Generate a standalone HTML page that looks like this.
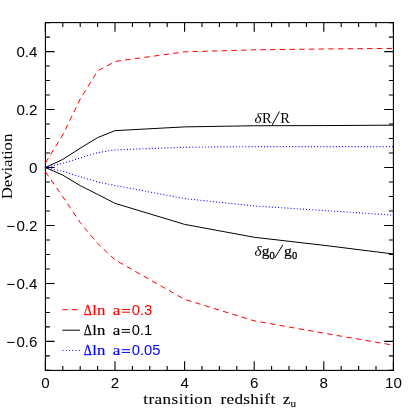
<!DOCTYPE html>
<html><head><meta charset="utf-8"><title>chart</title>
<style>html,body{margin:0;padding:0;background:#fff;}svg{display:block;will-change:transform;}text{font-family:"Liberation Sans",sans-serif;}.s{font-family:"Liberation Serif",serif;}</style></head><body>
<svg width="415" height="415" viewBox="0 0 415 415">
<rect x="0" y="0" width="415" height="415" fill="#fff"/>
<path d="M45.40 370.40V361.20M45.40 22.60V31.80M62.80 370.40V365.90M62.80 22.60V27.10M80.20 370.40V365.90M80.20 22.60V27.10M97.60 370.40V365.90M97.60 22.60V27.10M115.00 370.40V361.20M115.00 22.60V31.80M132.40 370.40V365.90M132.40 22.60V27.10M149.80 370.40V365.90M149.80 22.60V27.10M167.20 370.40V365.90M167.20 22.60V27.10M184.60 370.40V361.20M184.60 22.60V31.80M202.00 370.40V365.90M202.00 22.60V27.10M219.40 370.40V365.90M219.40 22.60V27.10M236.80 370.40V365.90M236.80 22.60V27.10M254.20 370.40V361.20M254.20 22.60V31.80M271.60 370.40V365.90M271.60 22.60V27.10M289.00 370.40V365.90M289.00 22.60V27.10M306.40 370.40V365.90M306.40 22.60V27.10M323.80 370.40V361.20M323.80 22.60V31.80M341.20 370.40V365.90M341.20 22.60V27.10M358.60 370.40V365.90M358.60 22.60V27.10M376.00 370.40V365.90M376.00 22.60V27.10M393.40 370.40V361.20M393.40 22.60V31.80M45.40 370.40H49.90M393.40 370.40H388.90M45.40 355.91H49.90M393.40 355.91H388.90M45.40 341.42H54.60M393.40 341.42H384.20M45.40 326.92H49.90M393.40 326.92H388.90M45.40 312.43H49.90M393.40 312.43H388.90M45.40 297.94H49.90M393.40 297.94H388.90M45.40 283.45H54.60M393.40 283.45H384.20M45.40 268.96H49.90M393.40 268.96H388.90M45.40 254.47H49.90M393.40 254.47H388.90M45.40 239.97H49.90M393.40 239.97H388.90M45.40 225.48H54.60M393.40 225.48H384.20M45.40 210.99H49.90M393.40 210.99H388.90M45.40 196.50H49.90M393.40 196.50H388.90M45.40 182.01H49.90M393.40 182.01H388.90M45.40 167.52H54.60M393.40 167.52H384.20M45.40 153.02H49.90M393.40 153.02H388.90M45.40 138.53H49.90M393.40 138.53H388.90M45.40 124.04H49.90M393.40 124.04H388.90M45.40 109.55H54.60M393.40 109.55H384.20M45.40 95.06H49.90M393.40 95.06H388.90M45.40 80.57H49.90M393.40 80.57H388.90M45.40 66.07H49.90M393.40 66.07H388.90M45.40 51.58H54.60M393.40 51.58H384.20M45.40 37.09H49.90M393.40 37.09H388.90M45.40 22.60H49.90M393.40 22.60H388.90" stroke="#000" stroke-width="1.1" fill="none"/>
<rect x="45.40" y="22.60" width="348.00" height="347.80" fill="none" stroke="#000" stroke-width="1.1"/>
<polyline fill="none" stroke-width="1" stroke="#ff0000" stroke-dasharray="5.5 4.2" stroke-dashoffset="-0.2" points="45.40,163.02 62.80,134.91 80.20,99.12 97.60,71.00 115.00,61.44 184.60,51.87 254.20,49.84 323.80,48.97 393.40,48.40"/>
<polyline fill="none" stroke-width="1" stroke="#ff0000" stroke-dasharray="5.5 4.2" stroke-dashoffset="-0.2" points="45.40,171.72 62.80,196.79 80.20,222.47 97.60,243.45 115.00,259.83 184.60,299.39 254.20,320.84 323.80,333.16 393.40,345.18"/>
<polyline fill="none" stroke-width="1" stroke="#000" points="45.40,167.52 62.80,159.43 80.20,148.24 97.60,137.61 115.00,130.65 184.60,126.88 254.20,125.75 323.80,125.58 393.40,125.17"/>
<polyline fill="none" stroke-width="1" stroke="#000" points="45.40,167.52 62.80,175.11 80.20,185.63 97.60,194.38 115.00,203.34 184.60,224.38 254.20,237.28 323.80,245.31 393.40,253.97"/>
<polyline fill="none" stroke-width="1.15" stroke="#0000ff" stroke-dasharray="0.1 3.02" stroke-linecap="round" points="45.40,167.52 62.80,163.29 80.20,157.95 97.60,152.68 115.00,149.89 184.60,147.17 254.20,146.65 323.80,146.65 393.40,146.65"/>
<polyline fill="none" stroke-width="1.15" stroke="#0000ff" stroke-dasharray="0.1 3.02" stroke-linecap="round" points="45.40,167.52 62.80,171.23 80.20,176.68 97.60,181.95 115.00,185.52 184.60,198.56 254.20,205.89 323.80,210.50 393.40,215.14"/>
<text transform="translate(45.40 387.50) scale(1.06 1)" font-size="14.3" text-anchor="middle">0</text>
<text transform="translate(115.00 387.50) scale(1.06 1)" font-size="14.3" text-anchor="middle">2</text>
<text transform="translate(184.60 387.50) scale(1.06 1)" font-size="14.3" text-anchor="middle">4</text>
<text transform="translate(254.20 387.50) scale(1.06 1)" font-size="14.3" text-anchor="middle">6</text>
<text transform="translate(323.80 387.50) scale(1.06 1)" font-size="14.3" text-anchor="middle">8</text>
<text transform="translate(393.40 387.50) scale(1.06 1)" font-size="14.3" text-anchor="middle">10</text>
<text transform="translate(37.50 56.68) scale(1.06 1)" font-size="14.3" text-anchor="end">0.4</text>
<text transform="translate(37.50 114.65) scale(1.06 1)" font-size="14.3" text-anchor="end">0.2</text>
<text transform="translate(37.50 172.62) scale(1.06 1)" font-size="14.3" text-anchor="end">0</text>
<text transform="translate(37.50 230.58) scale(1.06 1)" font-size="14.3" text-anchor="end">−<tspan dx="1.2">0.2</tspan></text>
<text transform="translate(37.50 288.55) scale(1.06 1)" font-size="14.3" text-anchor="end">−<tspan dx="1.2">0.4</tspan></text>
<text transform="translate(37.50 346.52) scale(1.06 1)" font-size="14.3" text-anchor="end">−<tspan dx="1.2">0.6</tspan></text>
<text transform="translate(143.20 404.00) scale(1.17 1)" class="s" font-size="14.7" textLength="58.80" lengthAdjust="spacing" stroke="#000" stroke-width="0.1">transition</text>
<text transform="translate(220.40 404.00) scale(1.17 1)" class="s" font-size="14.7" textLength="46.84" lengthAdjust="spacing" stroke="#000" stroke-width="0.1">redshift</text>
<text transform="translate(282.80 404.00) scale(1.17 1)" class="s" font-size="14.7" stroke="#000" stroke-width="0.1">z</text>
<text transform="translate(290.40 407.40) scale(1.17 1)" class="s" font-size="9.5" stroke="#000" stroke-width="0.1">u</text>
<text class="s" transform="translate(12.4 199.2) rotate(-90) scale(1.15 1)" font-size="14.7" textLength="57.04" lengthAdjust="spacing" >Deviation</text>
<text transform="translate(254.50 122.60) scale(1.05 1)" class="s" font-size="14.5" font-style="italic">δ</text>
<text transform="translate(262.00 122.60) scale(0.98 1)" class="s" font-size="14.8">R</text>
<path d="M272.2 125.1L279.4 111.5" stroke="#000" stroke-width="1" fill="none"/>
<text transform="translate(280.30 122.60) scale(0.98 1)" class="s" font-size="14.8">R</text>
<text transform="translate(254.60 255.80) scale(1.05 1)" class="s" font-size="14.5" font-style="italic">δ</text>
<text transform="translate(261.70 255.80) scale(1.05 1)" class="s" font-size="14.8" stroke="#000" stroke-width="0.2">g</text>
<text transform="translate(269.50 259.30) scale(1.08 1)" class="s" font-size="9.8" stroke="#000" stroke-width="0.25">0</text>
<path d="M274.7 258.1L282.9 244.8" stroke="#000" stroke-width="1" fill="none"/>
<text transform="translate(284.00 255.80) scale(1.05 1)" class="s" font-size="14.8" stroke="#000" stroke-width="0.2">g</text>
<text transform="translate(292.10 259.30) scale(1.08 1)" class="s" font-size="9.8" stroke="#000" stroke-width="0.25">0</text>
<path d="M62.3 309.70H78.0" stroke="#ff0000" stroke-width="1" stroke-dasharray="5.6 4.1" fill="none"/>
<text transform="translate(83.70 314.50) scale(0.8 1)" class="s" font-size="15.6" fill="#ff0000" stroke="#ff0000" stroke-width="0.25">Δ</text>
<text transform="translate(92.20 314.50) scale(1.15 1)" class="s" font-size="14.6" fill="#ff0000" textLength="11.39" lengthAdjust="spacing" stroke="#ff0000" stroke-width="0.15">ln</text>
<text transform="translate(112.70 314.50) scale(1.14 1)" class="s" font-size="15" fill="#ff0000" stroke="#ff0000" stroke-width="0.15">a</text>
<path d="M121.7 309.50H130.1M121.7 312.20H130.1" stroke="#ff0000" stroke-width="1" fill="none"/>
<text transform="translate(131.70 314.50) scale(1.03 1)" font-size="14.3" fill="#ff0000">0.3</text>
<path d="M62.3 330.20H80.0" stroke="#000" stroke-width="1"  fill="none"/>
<text transform="translate(83.70 334.60) scale(0.8 1)" class="s" font-size="15.6" fill="#000" stroke="#000" stroke-width="0.25">Δ</text>
<text transform="translate(92.20 334.60) scale(1.15 1)" class="s" font-size="14.6" fill="#000" textLength="11.39" lengthAdjust="spacing" stroke="#000" stroke-width="0.15">ln</text>
<text transform="translate(112.70 334.60) scale(1.14 1)" class="s" font-size="15" fill="#000" stroke="#000" stroke-width="0.15">a</text>
<path d="M121.7 329.60H130.1M121.7 332.30H130.1" stroke="#000" stroke-width="1" fill="none"/>
<text transform="translate(131.70 334.60) scale(1.03 1)" font-size="14.3" fill="#000">0.1</text>
<path d="M62.9 350.50H79.5" stroke="#0000ff" stroke-width="1.15" stroke-dasharray="0.1 3.15" stroke-linecap="round" fill="none"/>
<text transform="translate(83.70 354.70) scale(0.8 1)" class="s" font-size="15.6" fill="#0000ff" stroke="#0000ff" stroke-width="0.25">Δ</text>
<text transform="translate(92.20 354.70) scale(1.15 1)" class="s" font-size="14.6" fill="#0000ff" textLength="11.39" lengthAdjust="spacing" stroke="#0000ff" stroke-width="0.15">ln</text>
<text transform="translate(112.70 354.70) scale(1.14 1)" class="s" font-size="15" fill="#0000ff" stroke="#0000ff" stroke-width="0.15">a</text>
<path d="M121.7 349.70H130.1M121.7 352.40H130.1" stroke="#0000ff" stroke-width="1" fill="none"/>
<text transform="translate(131.70 354.70) scale(1.03 1)" font-size="14.3" fill="#0000ff">0.05</text>
</svg></body></html>
